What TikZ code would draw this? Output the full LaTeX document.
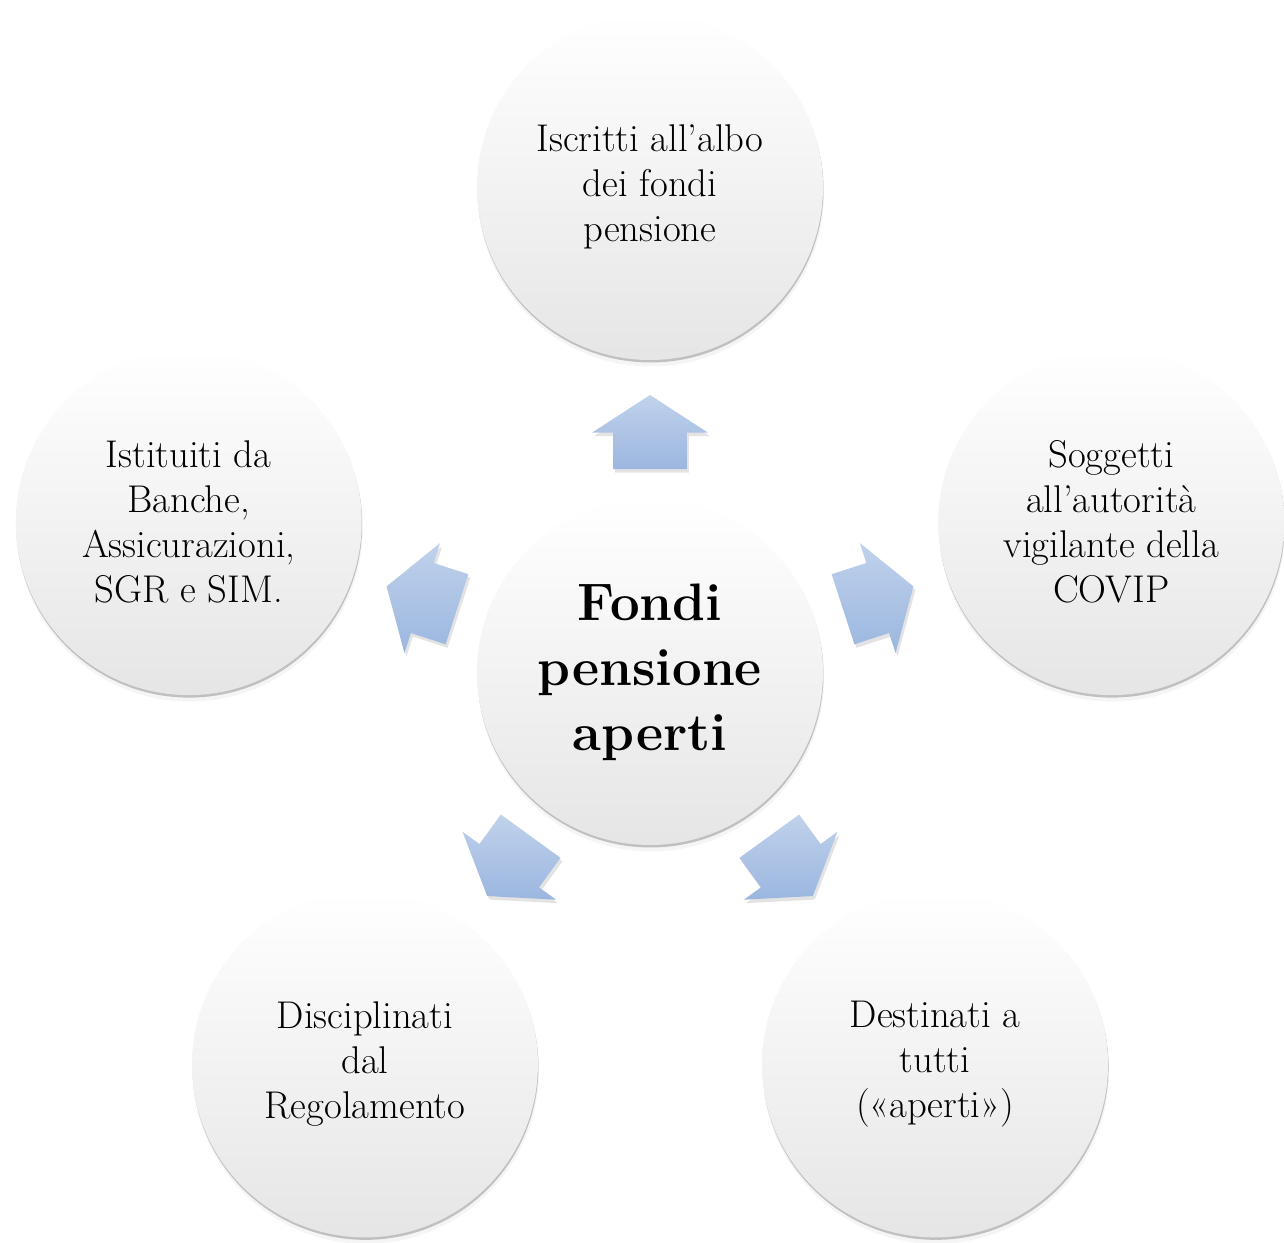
\documentclass[tikz,border=0pt]{standalone}
\usepackage{tikz}
\usetikzlibrary{positioning, shapes.arrows, shadows}

\definecolor{frecciaAlta}{HTML}{C0D2EC}
\definecolor{frecciaBassa}{HTML}{9BB6DF}

\tikzset{
  cerchio/.style={circle, minimum size=6.92cm, inner sep=0pt, align=center,
    top color=white, middle color=white, bottom color=gray!20,
    font=\fontsize{22}{25.6}\selectfont,
    drop shadow={opacity=0.08, shadow xshift=0.02cm, shadow yshift=-0.13cm},
    drop shadow={opacity=0.45, shadow xshift=0.01cm, shadow yshift=-0.05cm}},
  freccia/.style={single arrow, minimum height=1.48cm, minimum width=0pt,
    inner xsep=0pt, inner ysep=0.73cm, single arrow head extend=0.42cm,
    single arrow tip angle=114, top color=frecciaAlta, bottom color=frecciaBassa,
    drop shadow={opacity=0.22, shadow xshift=0.04cm, shadow yshift=-0.07cm}}
}

\begin{document}
\begin{tikzpicture}
    % cornice della figura
    \useasboundingbox (-13,-11.42) rectangle (12.68,13.44);

    % frecce radiali verso l'esterno
    \foreach \a/\nome in {90/fA, 162/fB, 234/fC, 306/fD, 18/fE} {
        \node[freccia, rotate=\a] (\nome) at (\a:4.56) {};
    }

    % cerchio centrale
    \node[cerchio, font=\fontsize{30}{37}\selectfont\bfseries] (centro) at (0,0)
        {Fondi\\pensione\\aperti};

    % cerchi esterni
    \node[cerchio] (albo) at (90:9.7) {Iscritti all’albo\\dei fondi\\pensione};
    \node[cerchio] (covip) at (18:9.7) {Soggetti\\all’autorità\\vigilante della\\COVIP};
    \node[cerchio] (tutti) at (306:9.7) {Destinati a\\tutti\\(«aperti»)};
    \node[cerchio] (regolamento) at (234:9.7) {Disciplinati\\dal\\Regolamento};
    \node[cerchio] (istituti) at (162:9.7) {Istituiti da\\Banche,\\Assicurazioni,\\SGR e SIM.};
\end{tikzpicture}
\end{document}
